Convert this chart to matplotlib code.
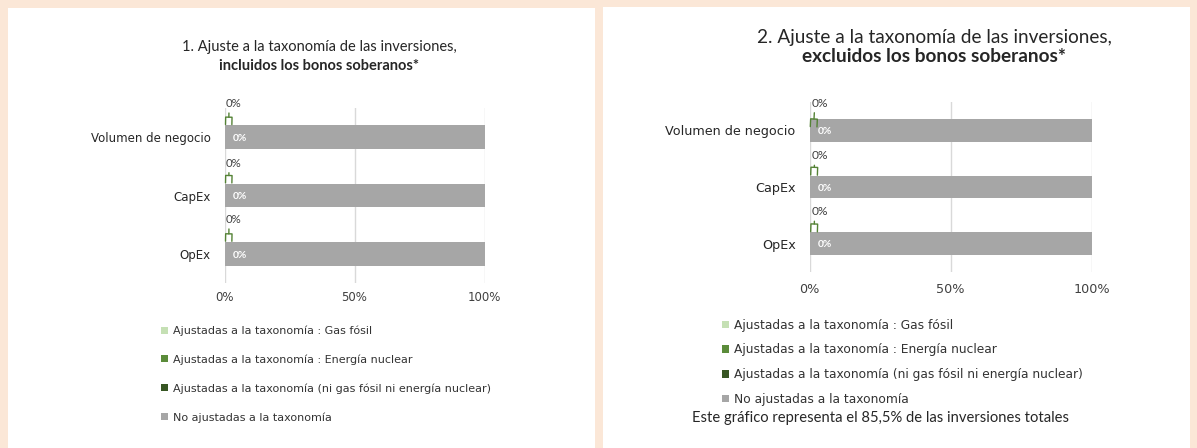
import matplotlib
matplotlib.use("Agg")
import matplotlib.pyplot as plt
from matplotlib.patches import Rectangle

# ---------------- data ----------------
categories = ["Volumen de negocio", "CapEx", "OpEx"]
series_names = [
    "Ajustadas a la taxonomía : Gas fósil",
    "Ajustadas a la taxonomía : Energía nuclear",
    "Ajustadas a la taxonomía (ni gas fósil ni energía nuclear)",
    "No ajustadas a la taxonomía",
]
# panel 1: incl. sovereign bonds
p1_gas = [0, 0, 0]
p1_nuclear = [0, 0, 0]
p1_other = [0, 0, 0]
p1_not = [100, 100, 100]
# panel 2: excl. sovereign bonds
p2_gas = [0, 0, 0]
p2_nuclear = [0, 0, 0]
p2_other = [0, 0, 0]
p2_not = [100, 100, 100]
xticks = [0, 50, 100]
xtick_labels = ["0%", "50%", "100%"]
title1 = ("1. Ajuste a la taxonomía de las inversiones,", "incluidos los bonos soberanos*")
title2 = ("2. Ajuste a la taxonomía de las inversiones,", "excluidos los bonos soberanos*")
footnote = "Este gráfico representa el 85,5% de las inversiones totales"

colors = ["#C5E0B4", "#5B8C3A", "#375623", "#A6A6A6"]
leader_color = "#548235"
BG = "#FBE7D7"

W, H = 1197, 448
fig = plt.figure(figsize=(W / 100, H / 100), dpi=100)
fig.patch.set_facecolor(BG)

def px_rect(x0, y0, x1, y1):
    # pixel box (top-left origin) -> figure fraction [l, b, w, h]
    return [x0 / W, 1 - y1 / H, (x1 - x0) / W, (y1 - y0) / H]

# white panels
for (x0, y0, x1, y1) in [(8, 8, 595, 448), (603, 7, 1190, 448)]:
    l, b, w, h = px_rect(x0, y0, x1, y1)
    fig.patches.append(Rectangle((l, b), w, h, transform=fig.transFigure,
                                 facecolor="white", edgecolor="none", zorder=-5))

TITLE_FONT = ["Lato", "DejaVu Sans"]
SMALL_FONT = ["DejaVu Sans"]

def draw_panel(box, data, cat_fs, tick_fs, tick_pad, lab_fs, leader_dy):
    ax = fig.add_axes(px_rect(*box))
    ax.set_zorder(2)
    ax.set_facecolor("none")
    ypos = list(range(len(categories)))
    left = [0] * len(categories)
    handles = []
    for vals, col, name in zip(data, colors, series_names):
        bc = ax.barh(ypos, vals, height=0.4, left=left, color=col, label=name, zorder=2)
        handles.append(bc)
        left = [a + b for a, b in zip(left, vals)]
    ax.set_xlim(0, 100)
    ax.set_ylim(len(categories) - 0.5, -0.5)
    ax.set_xticks(xticks)
    ax.set_xticklabels(xtick_labels, fontsize=tick_fs, color="#404040", family=SMALL_FONT)
    ax.set_yticks(ypos)
    ax.set_yticklabels(categories, fontsize=cat_fs, color="#262626", family=SMALL_FONT)
    ax.tick_params(length=0, axis="x", pad=tick_pad)
    ax.tick_params(length=0, axis="y", pad=10)
    for s in ax.spines.values():
        s.set_visible(False)
    ax.grid(axis="x", color="#D9D9D9", linewidth=1, zorder=0)
    ax.set_axisbelow(True)
    # data labels
    gas, nuc, oth, nota = data
    for i, y in enumerate(ypos):
        ax.annotate(f"{gas[i]:.0f}%", xy=(gas[i] + 1.6, y - 0.2), xycoords="data",
                    xytext=(-2, leader_dy[i]), textcoords="offset points",
                    fontsize=lab_fs, color="#404040", family=TITLE_FONT,
                    ha="left", va="bottom",
                    arrowprops=dict(arrowstyle="-[, widthB=0.28, lengthB=0.65",
                                    color=leader_color, lw=1.0,
                                    shrinkA=1, shrinkB=6,
                                    relpos=(0.2, 0.0)))
        ax.text(oth[i] + 3, y + 0.02, f"{nuc[i]:.0f}%", fontsize=7.4, color="white",
                family=TITLE_FONT, fontweight="bold", ha="left", va="center", zorder=3)
    return ax, handles

ax1, h1 = draw_panel((224.5, 108, 484.5, 283), [p1_gas, p1_nuclear, p1_other, p1_not],
                     cat_fs=8.5, tick_fs=8.5, tick_pad=6, lab_fs=8.2, leader_dy=[12, 11, 12.5])
ax2, h2 = draw_panel((809.5, 102, 1091.5, 272), [p2_gas, p2_nuclear, p2_other, p2_not],
                     cat_fs=9.2, tick_fs=9.2, tick_pad=8, lab_fs=8.6, leader_dy=[7.5, 10.5, 11])

# titles
fig.text(319 / W, 1 - 47 / H, title1[0], ha="center", va="center", fontsize=10.5,
         family=TITLE_FONT, color="#262626")
fig.text(319 / W, 1 - 66 / H, title1[1], ha="center", va="center", fontsize=10.5,
         family=TITLE_FONT, fontweight="bold", color="#262626")
fig.text(934 / W, 1 - 38 / H, title2[0], ha="center", va="center", fontsize=13.7,
         family=TITLE_FONT, color="#262626")
fig.text(934 / W, 1 - 56 / H, title2[1], ha="center", va="center", fontsize=13.7,
         family=TITLE_FONT, fontweight="bold", color="#262626")

# legends
leg1 = fig.legend(handles=h1, labels=series_names, loc="upper left",
                  bbox_to_anchor=(157 / W, 1 - 321 / H), frameon=False,
                  prop={"family": SMALL_FONT, "size": 8.0}, labelcolor="#333333",
                  handlelength=0.6, handleheight=0.6, handletextpad=0.4,
                  labelspacing=1.66, borderaxespad=0)
leg2 = fig.legend(handles=h2, labels=series_names, loc="upper left",
                  bbox_to_anchor=(717 / W, 1 - 314 / H), frameon=False,
                  prop={"family": SMALL_FONT, "size": 8.8}, labelcolor="#333333",
                  handlelength=0.6, handleheight=0.6, handletextpad=0.4,
                  labelspacing=0.95, borderaxespad=0)

fig.text(692 / W, 1 - 418 / H, footnote, ha="left", va="center", fontsize=10.6,
         family=TITLE_FONT, color="#262626")

fig.savefig("out.png", dpi=100, facecolor=BG)
